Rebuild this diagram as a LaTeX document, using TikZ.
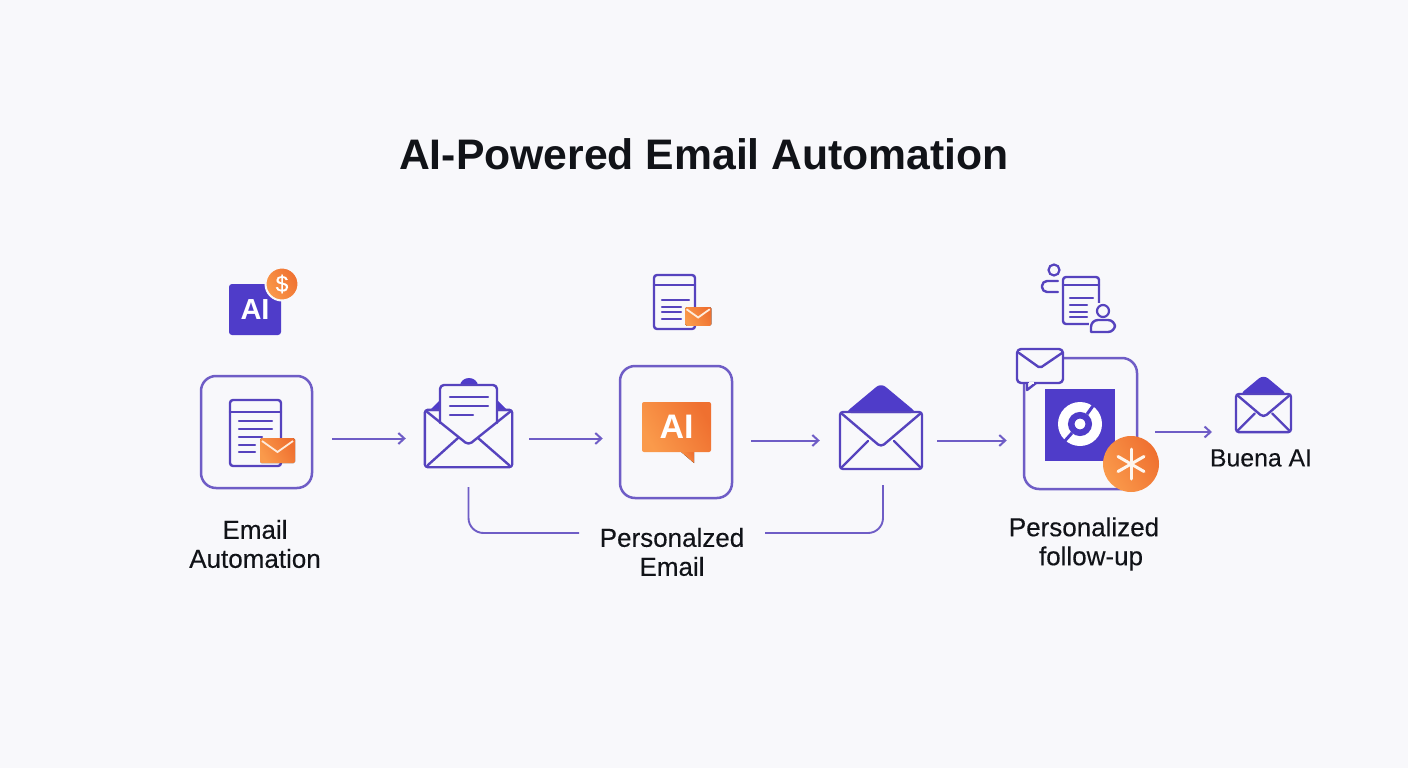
\documentclass[tikz,border=0pt]{standalone}
\usepackage{fontspec}
\usetikzlibrary{arrows.meta}
\setmainfont{Liberation Sans}
\newfontfamily\labelfont[FakeBold=0.25]{Liberation Sans}
\definecolor{pagebg}{HTML}{F8F8FB}
\definecolor{violet}{HTML}{6F5DC6}
\definecolor{indigo}{HTML}{4F3CC9}
\definecolor{iconblue}{HTML}{5643BE}
\definecolor{orangelt}{HTML}{FA9A4B}
\definecolor{orangedk}{HTML}{EF7030}
\definecolor{inkblack}{HTML}{111318}
\tikzset{
  stepbox/.style={draw=violet,line width=2.5pt,rounded corners=15pt,inner sep=0pt},
  mailspot/.style={inner sep=0pt,minimum width=#1},
  flow/.style={draw=violet,line width=2pt,-{Straight Barb[length=6pt,width=11pt]}},
  wire/.style={draw=violet,line width=1.9pt,rounded corners=15pt},
  caption/.style={font=\labelfont\fontsize{26}{29}\selectfont,text=inkblack,align=center,inner sep=0pt},
  iconline/.style={draw=iconblue,line width=2.4pt,line cap=round,line join=round},
  orangefill/.style={left color=orangelt,right color=orangedk,shading angle=120},
  % page outline: width, height, header line
  pics/pageframe/.style n args={3}{code={
    \draw[iconline,rounded corners=3pt] (0,0) rectangle (#1,#2);
    \draw[iconline] (0,#3) -- (#1,#3);
  }},
  % small orange envelope, origin at its top left corner
  pics/orangemail/.style={code={
    \fill[orangefill,rounded corners=1.5pt] (0,0) rectangle (35*#1,25*#1);
    \draw[white!80!orangelt,line width=1.8pt] (2*#1,3*#1) -- (17.5*#1,14*#1) -- (33*#1,3*#1);
  }},
  % closed envelope with filled flap, origin at top centre of the body
  pics/flapmail/.style={code={
    \fill[indigo,rounded corners=6pt] (-36*#1,1*#1) -- (0,-29*#1) -- (36*#1,1*#1) -- cycle;
    \draw[iconline,rounded corners=3pt] (-41*#1,0) rectangle (41*#1,57*#1);
    \draw[iconline,rounded corners=4pt] (-40*#1,1*#1) -- (0,35*#1) -- (40*#1,1*#1);
    \draw[iconline] (-39*#1,55*#1) -- (-13*#1,29*#1);
    \draw[iconline] (39*#1,55*#1) -- (13*#1,29*#1);
  }}
}
\begin{document}
\begin{tikzpicture}[x=1pt,y=-1pt]
  \useasboundingbox (0,0) rectangle (1408,768);
  \fill[pagebg] (0,0) rectangle (1408,768);
  \node (title) at (704,154) [font=\bfseries\fontsize{42.7}{50}\selectfont,text=inkblack] {AI-Powered Email Automation};

  % step boxes
  \node [stepbox,minimum width=111pt,minimum height=112pt] (autobox) at (256.5,432) {};
  \node [stepbox,minimum width=112pt,minimum height=132pt] (aibox) at (676,432) {};
  \node [stepbox,minimum width=113pt,minimum height=131pt] (followbox) at (1080.5,423.5) {};

  % anchors for the mail icons
  \node [mailspot=87pt,minimum height=57pt] (openmail) at (468.5,438.5) {};
  \node [mailspot=82pt,minimum height=57pt] (flatmail) at (881,440.5) {};
  \node [mailspot=55pt,minimum height=37pt] (lastmail) at (1263.5,412.5) {};

  % top icons
  \node [fill=indigo,rounded corners=3pt,minimum width=52pt,minimum height=51pt,inner sep=0pt,text=white,font=\bfseries\fontsize{29}{29}\selectfont] (aitile) at (255,309.5) {AI};
  \node [circle,orangefill,draw=pagebg,line width=2pt,minimum size=33pt,inner sep=0pt,text=white,font=\labelfont\fontsize{23}{23}\selectfont] (dollar) at (282,284) {\$};

  \pic at (230,400) {pageframe={51}{66}{12}};
  \foreach \yy/\xx in {421/272,429/272,437/262,445/255,452/255}
    \draw[iconline] (239,\yy) -- (\xx,\yy);
  \pic at (260,438) {orangemail=1};

  \pic at (654,275) {pageframe={41}{54}{10}};
  \foreach \yy/\xx in {300/689,307/681,312/681,319/681}
    \draw[iconline] (662,\yy) -- (\xx,\yy);
  \pic at (685,307) {orangemail=0.75};

  % person and page icon
  \pic at (1063,277) {pageframe={36}{47}{8}};
  \foreach \yy/\xx in {298/1093,305/1087,312/1087,317/1087}
    \draw[iconline] (1070,\yy) -- (\xx,\yy);
  \node [circle,draw=iconblue,fill=pagebg,line width=2.2pt,minimum size=11pt,inner sep=0pt] (headone) at (1054,270) {};
  \draw[iconline,rounded corners=5pt] (1058,281) -- (1042,281) -- (1042,292) -- (1058,292);
  \fill[pagebg] (1089,303) rectangle (1117,334);
  \node [circle,draw=iconblue,fill=pagebg,line width=2.2pt,minimum size=12pt,inner sep=0pt] (headtwo) at (1103,311) {};
  \draw[iconline,rounded corners=7pt] (1091,332) -- (1091,320) -- (1115,320) -- (1115,332) [sharp corners] -- cycle;

  % open envelope with letter
  \fill[indigo] (469,386) ellipse (9 and 8);
  \fill[indigo] (429,411) -- (440,400) -- (497,400) -- (508,411) -- cycle;
  \draw[iconline,rounded corners=3pt] (openmail.north west) rectangle (openmail.south east);
  \fill[pagebg,rounded corners=4pt] (440,423) -- (440,385) -- (497,385) -- (497,423) -- (469,445) -- cycle;
  \draw[iconline,rounded corners=4pt] (440,423) -- (440,385) -- (497,385) -- (497,423);
  \foreach \yy/\xx in {397/488,406/488,415/473}
    \draw[iconline] (450,\yy) -- (\xx,\yy);
  \draw[iconline,rounded corners=4pt] (426,411) -- (468.5,445) -- (511,411);
  \draw[iconline] (428,465) -- (458,438);
  \draw[iconline] (509,465) -- (478,438);

  % closed envelopes
  \pic at (881,412) {flapmail=1};
  \pic at (1263.5,394) {flapmail=0.67};

  % ai speech bubble
  \fill[orangefill] (680,451) -- (694,463) -- (694,451) -- cycle;
  \node [orangefill,rounded corners=2pt,minimum width=69pt,minimum height=50pt,inner sep=0pt,text=white,font=\bfseries\fontsize{34}{34}\selectfont] (aitext) at (676.5,427) {AI};

  % follow-up tile, logo and badges
  \node [fill=indigo,minimum width=70pt,minimum height=72pt,inner sep=0pt] (logotile) at (1080,425) {};
  \fill[white] (1080,424) circle (22);
  \coordinate (slashup) at (1095,403);
  \coordinate (slashdown) at (1063,443);
  \node [circle,draw=indigo,fill=white,line width=6.5pt,minimum size=17.5pt,inner sep=0pt] (logoeye) at (1080,424) {};
  \draw[indigo,line width=3pt] (slashdown) -- (logoeye);
  \draw[indigo,line width=3pt] (slashup) -- (logoeye);
  \draw[iconline,fill=pagebg,rounded corners=4pt] (1017,349) rectangle (1063,383);
  \draw[iconline,fill=pagebg] (1027,383) -- (1027,390) -- (1036,383);
  \draw[pagebg,line width=2.4pt] (1029,383) -- (1034,383);
  \draw[iconline,rounded corners=2pt] (1019,353) -- (1040,368) -- (1062,353);
  \node [circle,orangefill,minimum size=56pt,inner sep=0pt] (starbadge) at (1131,464) {};
  \foreach \ang in {90,30,150}
    \draw[white!90!orangelt,line width=3pt,line cap=round] ([shift={(\ang:15pt)}]starbadge.center) -- ([shift={(\ang+180:15pt)}]starbadge.center);

  % labels
  \node [caption] (autolabel) at (255,544) {Email\\Automation};
  \node [caption] (perslabel) at (672,552) {Personalzed\\Email};
  \node [caption] (followlabel) at (1084,544) {Personalized\\\hspace*{14pt}follow-up};
  \node [caption,font=\labelfont\fontsize{24.8}{29}\selectfont] (buenalabel) at (1261,458) {Buena AI};

  % connectors
  \coordinate (wireleft) at (579,533);
  \coordinate (wireright) at (765,533);
  \coordinate (buenain) at (1212,432);
  \draw[flow,shorten <=19pt,shorten >=19pt] (autobox.east |- openmail.west) -- (openmail.west);
  \draw[flow,shorten <=17pt,shorten >=16pt] (openmail.east) -- (aibox.west |- openmail.east);
  \draw[flow,shorten <=18pt,shorten >=20pt] (aibox.east |- flatmail.west) -- (flatmail.west);
  \draw[flow,shorten <=15pt,shorten >=16pt] (flatmail.east) -- (followbox.west |- flatmail.east);
  \draw[flow,shorten <=17pt] (followbox.east |- buenain) -- (buenain);
  \draw[wire,shorten <=20pt] (openmail.south) |- (wireleft);
  \draw[wire,shorten <=16pt] ([xshift=2pt]flatmail.south) |- (wireright);
\end{tikzpicture}
\end{document}
